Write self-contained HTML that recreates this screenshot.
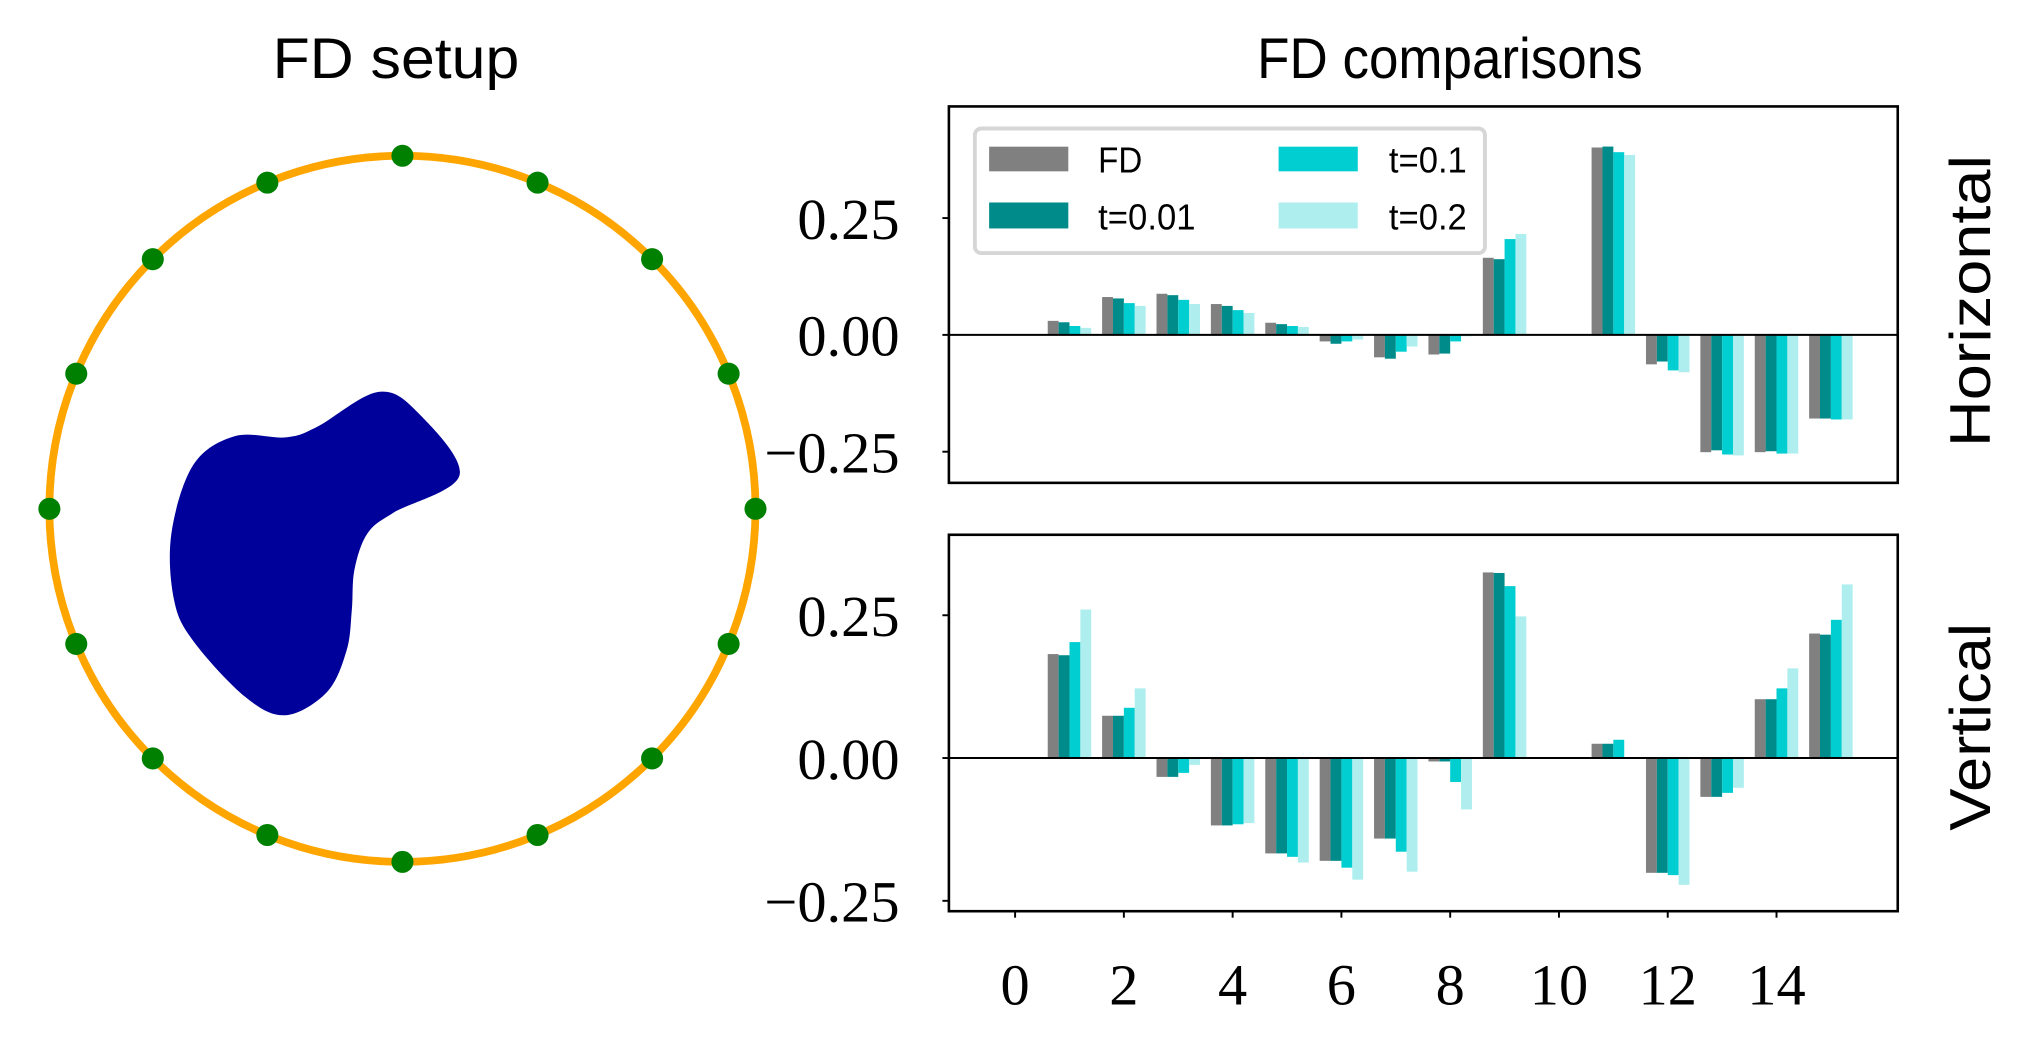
<!DOCTYPE html>
<html><head><meta charset="utf-8"><style>
html,body{margin:0;padding:0;background:#fff;}
svg{display:block;}
.t{font-family:"Liberation Sans Narrow","Liberation Sans",sans-serif;}
.n{font-family:"Liberation Serif",serif;}
</style></head><body>
<svg id="fig" xmlns="http://www.w3.org/2000/svg" width="2025" height="1041" viewBox="0 0 1560 802">
<rect width="1560" height="802" fill="#fff"/>
<text class="t" x="305" y="60" font-size="44" text-anchor="middle" textLength="190" lengthAdjust="spacingAndGlyphs">FD setup</text>
<text class="t" x="1117" y="60" font-size="44" text-anchor="middle" textLength="297" lengthAdjust="spacingAndGlyphs">FD comparisons</text>
<g id="setup">
<path id="blob" fill="#00009b"/>
<circle cx="310" cy="392" r="272" fill="none" stroke="#ffa500" stroke-width="6"/>
</g>
<g id="top"></g>
<g id="bot"></g>
<text class="t" font-size="44" text-anchor="middle" textLength="225" lengthAdjust="spacingAndGlyphs" transform="translate(1533,232) rotate(-90)">Horizontal</text>
<text class="t" font-size="44" text-anchor="middle" textLength="160" lengthAdjust="spacingAndGlyphs" transform="translate(1533,560) rotate(-90)">Vertical</text>
<g>
<rect x="751" y="99" width="393" height="96" rx="5" fill="#fff" stroke="#d6d6d6" stroke-width="3"/>
<rect x="762" y="113" width="61" height="19" fill="#808080"/>
<text class="t" x="846" y="133" font-size="28" textLength="34" lengthAdjust="spacingAndGlyphs">FD</text>
<rect x="762" y="156" width="61" height="20" fill="#008b8b"/>
<text class="t" x="846" y="177" font-size="28" textLength="75" lengthAdjust="spacingAndGlyphs">t=0.01</text>
<rect x="985" y="113" width="61" height="19" fill="#00ced1"/>
<text class="t" x="1070" y="133" font-size="28" textLength="60" lengthAdjust="spacingAndGlyphs">t=0.1</text>
<rect x="985" y="156" width="61" height="20" fill="#afeeee"/>
<text class="t" x="1070" y="177" font-size="28" textLength="60" lengthAdjust="spacingAndGlyphs">t=0.2</text>
</g>
</svg>
<script>
const categories = [0,1,2,3,4,5,6,7,8,9,10,11,12,13,14,15];
const seriesNames = ["FD","t=0.01","t=0.1","t=0.2"];
const hFD   = [0,0.030,0.081,0.088,0.066,0.026,-0.014,-0.048,-0.042,0.165,0,0.401,-0.063,-0.251,-0.251,-0.179];
const hT001 = [0,0.027,0.078,0.085,0.062,0.023,-0.019,-0.051,-0.040,0.162,0,0.403,-0.057,-0.247,-0.249,-0.179];
const hT01  = [0,0.019,0.068,0.075,0.053,0.019,-0.014,-0.036,-0.014,0.205,0,0.391,-0.076,-0.256,-0.254,-0.181];
const hT02  = [0,0.015,0.062,0.066,0.047,0.017,-0.010,-0.025,-0.003,0.216,0,0.385,-0.080,-0.258,-0.254,-0.181];
const vFD   = [0,0.182,0.074,-0.033,-0.118,-0.167,-0.180,-0.141,-0.006,0.325,0,0.025,-0.201,-0.068,0.103,0.218];
const vT001 = [0,0.180,0.074,-0.033,-0.118,-0.167,-0.180,-0.141,-0.006,0.324,0,0.025,-0.201,-0.068,0.103,0.216];
const vT01  = [0,0.203,0.088,-0.026,-0.116,-0.173,-0.192,-0.164,-0.042,0.301,0,0.032,-0.205,-0.061,0.122,0.242];
const vT02  = [0,0.260,0.122,-0.012,-0.114,-0.183,-0.213,-0.199,-0.090,0.248,0,0,-0.222,-0.052,0.157,0.304];
const yTicks = [0.25,0,-0.25];
const yTickLabels = ["0.25","0.00","\u22120.25"];
const xTicks = [0,2,4,6,8,10,12,14];
const colors = ["#808080","#008b8b","#00ced1","#afeeee"];
const NS="http://www.w3.org/2000/svg";
function mk(tag,attrs,parent){const e=document.createElementNS(NS,tag);for(const k in attrs)e.setAttribute(k,attrs[k]);parent.appendChild(e);return e;}
const X0=731,X1=1462;
function xs(v){return 782+41.9*v;}
function drawPanel(g,top,bottom,zeroY,unit,series){
  const ys=v=>zeroY-unit*v;
  series.forEach((arr,s)=>{
    categories.forEach((c,i)=>{
      const v=arr[i]; if(v===0)return;
      const x=xs(c-0.4+0.2*s);
      const r=mk('rect',{x:x,y:Math.min(ys(v),ys(0)),width:41.9*0.2,height:Math.abs(ys(v)-ys(0)),fill:colors[s]},g);
      
      
    });
  });
  const z=mk('line',{x1:X0,x2:X1,y1:ys(0),y2:ys(0),stroke:'#000','stroke-width':1.5},g);
  
  
  yTicks.forEach((t,i)=>{
    const y=ys(t);
    const tk=mk('line',{x1:X0-5,x2:X0,y1:y,y2:y,stroke:'#000','stroke-width':1.5},g);
    
    
    const tx=mk('text',{x:693,y:y+16,'font-size':45,'text-anchor':'end','class':'n'},g);
    tx.textContent=yTickLabels[i];
    
    
  });
  const fr=mk('rect',{x:X0,y:top,width:X1-X0,height:bottom-top,fill:'none',stroke:'#000','stroke-width':2},g);
  
  
}
drawPanel(document.getElementById('top'),82,372,258,360,[hFD,hT001,hT01,hT02]);
const bot=document.getElementById('bot');
drawPanel(bot,412,702,584,440,[vFD,vT001,vT01,vT02]);
xTicks.forEach(t=>{
  const x=xs(t);
  const tk=mk('line',{x1:x,x2:x,y1:702,y2:707,stroke:'#000','stroke-width':1.5},bot);
  
  
  const tx=mk('text',{x:x,y:774,'font-size':45,'text-anchor':'middle','class':'n'},bot);
  tx.textContent=String(t);
  
  
});
const setup=document.getElementById('setup');
for(let k=0;k<16;k++){
  const a=k*Math.PI/8;
  const c=mk('circle',{cx:310+272*Math.cos(a),cy:392+272*Math.sin(a),r:8.5,fill:'#008000'},setup);
  
  
}
const P=[[291,302],[322,318],[354,366],[303,395],[283,411],[273,439],[271,470],[267,501],[252,533],[220,551],[189,537],[149,494],[134,462],[132,411],[149,358],[181,336],[220,337],[244,329]];
let d='M'+P[0][0]+','+P[0][1];
const n=P.length;
for(let i=0;i<n;i++){
  const p0=P[(i-1+n)%n],p1=P[i],p2=P[(i+1)%n],p3=P[(i+2)%n];
  const c1=[p1[0]+(p2[0]-p0[0])/6,p1[1]+(p2[1]-p0[1])/6];
  const c2=[p2[0]-(p3[0]-p1[0])/6,p2[1]-(p3[1]-p1[1])/6];
  d+=' C'+c1.join(',')+' '+c2.join(',')+' '+p2.join(',');
}
document.getElementById('blob').setAttribute('d',d+'Z');
</script>
</body></html>
